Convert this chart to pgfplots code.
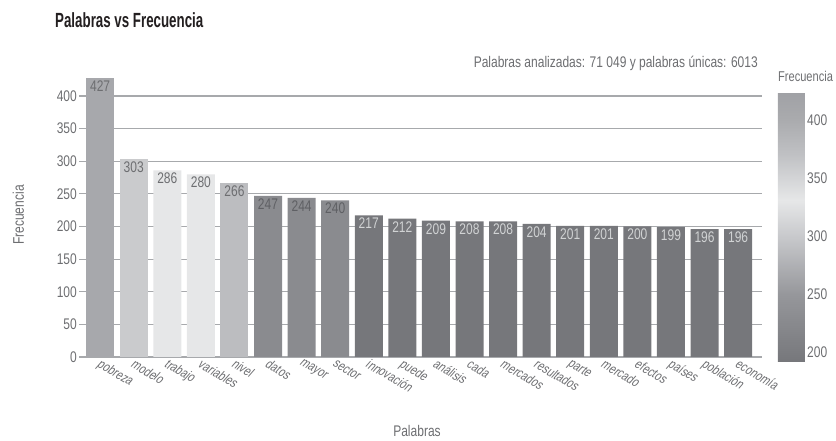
\documentclass[border=0pt]{standalone}
\usepackage{fontspec}
\setmainfont{Liberation Sans}[FakeStretch=0.78]
\newfontfamily\titlefont{Liberation Sans}[FakeStretch=0.65]
\newfontfamily\slfont{Liberation Sans}[FakeStretch=0.78, FakeSlant=0.2]
\usepackage{pgfplots}
\pgfplotsset{compat=1.18}
\definecolor{txt}{HTML}{6D6E71}
\definecolor{ttl}{HTML}{231F20}
\definecolor{gridc}{HTML}{A7A9AC}
\definecolor{cA}{HTML}{A7A8AC}
\definecolor{cB}{HTML}{CACBCD}
\definecolor{cC}{HTML}{E6E7E8}
\definecolor{cD}{HTML}{BCBDC0}
\definecolor{cE}{HTML}{8A8B8F}
\definecolor{cF}{HTML}{76777B}
\definecolor{lblD}{HTML}{6D6E71}
\definecolor{lblE}{HTML}{5F6064}
\definecolor{lblL}{HTML}{D1D3D4}
\begin{document}
\begin{tikzpicture}
\pgfkeys{/pgf/number format/assume math mode=true}
\path[use as bounding box] (0,0) rectangle (836pt,441pt);
\begin{axis}[
  at={(84pt,84pt)}, anchor=south west,
  x=33.58pt, y=0.6525pt,
  xmin=-0.48, xmax=19.71, ymin=0, ymax=430,
  axis line style={draw=none},
  ymajorgrids, grid style={draw=gridc, line width=1.1pt},
  ytick={0,50,...,400},
  ytick pos=left,
  tick align=outside, major tick length=5pt,
  ytick style={draw=gridc, line width=1.1pt},
  xtick={0,...,19},
  xtick style={draw=none},
  xticklabels={pobreza,modelo,trabajo,variables,nivel,datos,mayor,sector,innovación,puede,análisis,cada,mercados,resultados,parte,mercado,efectos,países,población,economía},
  xticklabel style={font=\slfont\fontsize{13.5}{15}\selectfont, color=txt, rotate=-30, anchor=north west, inner sep=1pt, yshift=5pt, xshift=-2pt},
  yticklabel style={font=\fontsize{15.4}{17}\selectfont, color=txt, inner sep=2pt},
  /pgf/number format/assume math mode=true,
  colorbar,
  colorbar/width=27pt,
  colorbar shift/.style={},
  colormap={grays}{rgb255(192)=(118,119,123) rgb255(250)=(150,151,155) rgb255(300)=(200,201,204) rgb255(331)=(230,231,232) rgb255(370)=(192,193,196) rgb255(400)=(170,171,174) rgb255(424)=(160,161,165)},
  point meta min=192, point meta max=424,
  colorbar style={
    scale only axis,
    height=270pt,
    at={(parent axis.south east)}, anchor=south west,
    xshift=16pt, yshift=-5pt,
    axis line style={draw=none},
    ytick={200,250,300,350,400},
    major tick length=0pt,
    yticklabel style={font=\fontsize{15.4}{17}\selectfont, color=txt, inner sep=2pt},
    /pgf/number format/assume math mode=true,
    title={Frecuencia},
    title style={font=\fontsize{14.2}{16}\selectfont, color=txt, at={(0,1)}, anchor=base west, inner sep=0pt, yshift=4pt},
  },
  every node near coord/.append style={font=\fontsize{15.4}{17}\selectfont, anchor=north, inner sep=2.5pt},
]
\addplot[ybar, bar width=28pt, bar shift=0pt, fill=cA, draw=none, nodes near coords, every node near coord/.append style={color=lblD}] coordinates {(0,427)};
\addplot[ybar, bar width=28pt, bar shift=0pt, fill=cB, draw=none, nodes near coords, every node near coord/.append style={color=lblD}] coordinates {(1,303)};
\addplot[ybar, bar width=28pt, bar shift=0pt, fill=cC, draw=none, nodes near coords, every node near coord/.append style={color=lblD}] coordinates {(2,286) (3,280)};
\addplot[ybar, bar width=28pt, bar shift=0pt, fill=cD, draw=none, nodes near coords, every node near coord/.append style={color=lblD}] coordinates {(4,266)};
\addplot[ybar, bar width=28pt, bar shift=0pt, fill=cE, draw=none, nodes near coords, every node near coord/.append style={color=lblE}] coordinates {(5,247) (6,244) (7,240)};
\addplot[ybar, bar width=28pt, bar shift=0pt, fill=cF, draw=none, nodes near coords, every node near coord/.append style={color=lblL}] coordinates {(8,217) (9,212) (10,209) (11,208) (12,208) (13,204) (14,201) (15,201) (16,200) (17,199) (18,196) (19,196)};
\end{axis}
\node[anchor=base west, inner sep=0pt, color=ttl, font=\titlefont\bfseries\fontsize{20.5}{22}\selectfont] at (55pt,413pt) {Palabras vs Frecuencia};
\node[anchor=base east, inner sep=0pt, color=txt, font=\fontsize{15.4}{17}\selectfont] at (758pt,373pt) {Palabras analizadas: 71 049 y palabras únicas: 6013};
\node[anchor=base, rotate=90, inner sep=0pt, color=txt, font=\fontsize{15.4}{17}\selectfont] at (24pt,226pt) {Frecuencia};
\node[anchor=base, inner sep=0pt, color=txt, font=\fontsize{15.4}{17}\selectfont] at (417pt,4pt) {Palabras};
\end{tikzpicture}
\end{document}
